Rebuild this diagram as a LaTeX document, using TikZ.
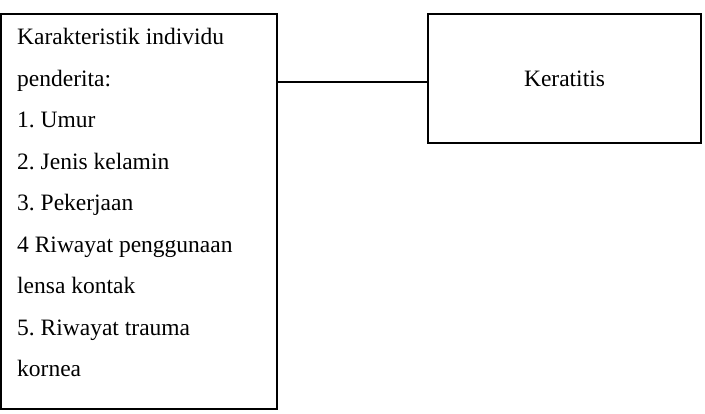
\documentclass[tikz,border=0pt]{standalone}
\usepackage{fontspec}
\setmainfont{Liberation Serif}
\frenchspacing
\begin{document}
\begin{tikzpicture}[x=1pt,y=-1pt,
  box/.style={draw,line width=1.2pt,rectangle,inner sep=0pt},
  txt/.style={font=\fontsize{23.5}{41.5}\selectfont\frenchspacing,align=left,inner sep=0pt}]
\useasboundingbox (0,0) rectangle (705,414);
\node[box,minimum width=276pt,minimum height=395pt] (L) at (139,211.5) {};
\node[box,minimum width=273pt,minimum height=129pt] (R) at (564.5,78.5) {};
\node[txt,anchor=north west] (T) at (17,28) {Karakteristik individu\\penderita:\\1. Umur\\2. Jenis kelamin\\3. Pekerjaan\\4 Riwayat penggunaan\\lensa kontak\\5. Riwayat trauma\\kornea};
\node[font=\fontsize{23.5}{28}\selectfont,inner sep=0pt] (K) at (R.center) {Keratitis};
\draw[line width=1.2pt] (L.east |- 0,82) -- (R.west |- 0,82);
\end{tikzpicture}
\end{document}
